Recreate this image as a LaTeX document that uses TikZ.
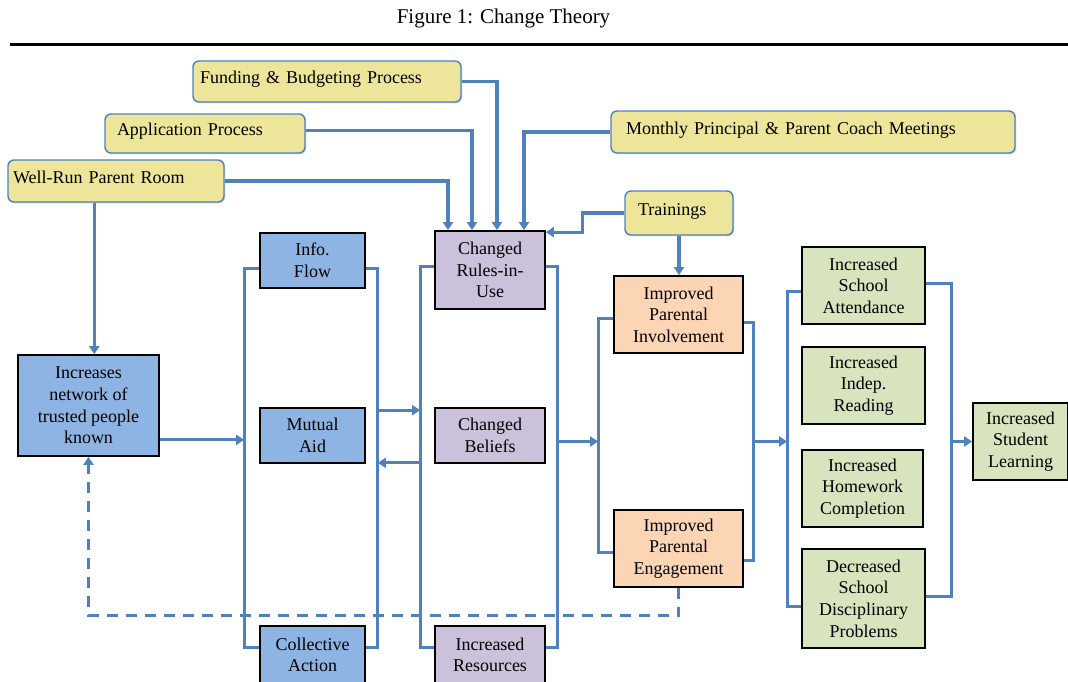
\documentclass[tikz,border=0pt]{standalone}
\usepackage{fontspec}
\setmainfont{Liberation Serif}
\usetikzlibrary{calc,arrows.meta,shadows}

\definecolor{linecol}{RGB}{79,129,189}
\definecolor{yelfill}{RGB}{237,229,154}
\definecolor{bluefill}{RGB}{142,180,227}
\definecolor{purpfill}{RGB}{204,193,218}
\definecolor{orangefill}{RGB}{252,213,181}
\definecolor{greenfill}{RGB}{215,228,189}

\begin{document}
\begin{tikzpicture}[x=1pt,y=-1pt,
  every node/.style={font=\fontsize{18}{21.6}\selectfont},
  softshadow/.style={drop shadow={shadow xshift=1.3pt,shadow yshift=-1.3pt,opacity=0.3}},
  box/.style={draw=black, line width=1.7pt, inner sep=0pt, align=center, softshadow},
  bluebox/.style={box, fill=bluefill},
  purpbox/.style={box, fill=purpfill},
  orangebox/.style={box, fill=orangefill},
  greenbox/.style={box, fill=greenfill},
  yel/.style={draw=linecol, line width=1.4pt, fill=yelfill, rounded corners=6pt,
    inner ysep=0pt, align=left, text height=12pt, text depth=8pt, softshadow},
  conn/.style={draw=linecol, line width=3.1pt},
  arr/.style={conn, -{Triangle[length=8pt,width=10pt]}},
  dasharr/.style={arr, dash pattern=on 11pt off 8pt}]

\useasboundingbox (0,0) rectangle (1068,681);

% heading and rule
\node (title) at (503.5,18) {\fontsize{21}{25}\selectfont Figure 1: Change Theory};
\draw[line width=3pt] (10,44) -- (1068,44);

% inputs
\node[yel, minimum width=268, minimum height=41, text width=254, inner xsep=7] (funding) at (327,81.5) {Funding \& Budgeting Process};
\node[yel, minimum width=200, minimum height=39, text width=176, inner xsep=12] (application) at (205,133.5) {Application Process};
\node[yel, minimum width=216, minimum height=42, text width=206, inner xsep=5] (wellrun) at (116,181) {Well-Run Parent Room};
\node[yel, minimum width=404, minimum height=42, text width=374, inner xsep=15] (monthly) at (813,132) {Monthly Principal \& Parent Coach Meetings};
\node[yel, minimum width=108, minimum height=44, text width=82, inner xsep=13] (trainings) at (679,213) {Trainings};

% social capital
\node[bluebox, minimum width=141, minimum height=101] (network) at (88.5,405.5) {Increases\\network of\\trusted people\\known};
\node[bluebox, minimum width=105, minimum height=55] (info) at (312.5,260.5) {Info.\\Flow};
\node[bluebox, minimum width=105, minimum height=55] (mutual) at (312.5,435.5) {Mutual\\Aid};
\node[bluebox, minimum width=105, minimum height=58] (collective) at (312.5,655) {Collective\\Action};

% institutional change
\node[purpbox, minimum width=110, minimum height=78] (rules) at (490,270) {Changed\\Rules-in-\\Use};
\node[purpbox, minimum width=110, minimum height=55] (beliefs) at (490,435.5) {Changed\\Beliefs};
\node[purpbox, minimum width=110, minimum height=58] (resources) at (490,655) {Increased\\Resources};

% parental outcomes
\node[orangebox, minimum width=129, minimum height=77] (involvement) at (678.5,314.5) {Improved\\Parental\\Involvement};
\node[orangebox, minimum width=129, minimum height=77] (engagement) at (678.5,548.5) {Improved\\Parental\\Engagement};

% student outcomes
\node[greenbox, minimum width=123, minimum height=77] (attendance) at (863.5,285.5) {Increased\\School\\Attendance};
\node[greenbox, minimum width=123, minimum height=77] (reading) at (863.5,385.5) {Increased\\Indep.\\Reading};
\node[greenbox, minimum width=121, minimum height=77] (homework) at (862.5,488.5) {Increased\\Homework\\Completion};
\node[greenbox, minimum width=123, minimum height=99] (discipline) at (863.5,598.5) {Decreased\\School\\Disciplinary\\Problems};
\node[greenbox, minimum width=95, minimum height=77] (learning) at (1020.5,441.5) {Increased\\Student\\Learning};

% inputs feeding the rules
\draw[arr] (wellrun.east) -| ($(rules.north)+(-42,0)$);
\draw[arr] ($(application.east)+(0,-3)$) -| ($(rules.north)+(-18,0)$);
\draw[arr] (funding.east) -| ($(rules.north)+(7,0)$);
\draw[arr] (monthly.west) -| ($(rules.north)+(34,0)$);
\draw[arr] (trainings.west) -- ++(-42,0) |- ($(rules.north east)+(0,2)$);
\draw[arr] (trainings.south) -- (trainings.south |- involvement.north);
\coordinate (wdrop) at ($(wellrun.south west)+(87,0)$);
\draw[arr] (wdrop) -- (wdrop |- network.north);

% bracket coordinates
\coordinate (bL) at ($(info.north west)+(-15,36)$);
\coordinate (bR) at ($(info.north east)+(12,36)$);
\coordinate (pL) at ($(rules.north west)+(-14,36)$);
\coordinate (pR) at ($(rules.north east)+(12,36)$);
\coordinate (oL) at ($(involvement.north west)+(-15,43)$);
\coordinate (oR) at ($(involvement.north east)+(10,47)$);
\coordinate (gL) at ($(attendance.north west)+(-14,45)$);
\coordinate (gR) at ($(attendance.north east)+(26,37)$);
\coordinate (m1) at ($(mutual.north)+(0,3)$);
\coordinate (m2) at ($(mutual.south)+(0,-1)$);

% social capital group
\draw[conn] ($(info.north west)+(0,36)$) -- (bL) |- ($(collective.north west)+(0,22)$);
\draw[conn] ($(info.north east)+(0,36)$) -- (bR) |- ($(collective.north east)+(0,22)$);
\coordinate (n1) at ($(network.south east)+(0,-17)$);
\draw[arr] (n1) -- (n1 -| bL);

% institutional group
\draw[conn] ($(rules.north west)+(0,36)$) -- (pL) |- ($(resources.north west)+(0,22)$);
\draw[conn] ($(rules.north east)+(0,36)$) -- (pR) |- ($(resources.north east)+(0,22)$);
\draw[arr] (bR |- m1) -- (pL |- m1);
\draw[arr] (pL |- m2) -- (bR |- m2);

% parental group
\draw[arr] (pR |- learning.west) -- (oL |- learning.west);
\draw[conn] ($(involvement.north west)+(0,43)$) -- (oL) |- ($(engagement.north west)+(0,43)$);
\draw[conn] ($(involvement.north east)+(0,47)$) -- (oR) |- ($(engagement.north east)+(0,51)$);

% student group
\draw[arr] (oR |- learning.west) -- (gL |- learning.west);
\draw[conn] ($(attendance.north west)+(0,45)$) -- (gL) |- ($(discipline.north west)+(0,58)$);
\draw[conn] ($(attendance.north east)+(0,37)$) -- (gR) |- ($(discipline.north east)+(0,48)$);
\draw[arr] (gR |- learning.west) -- (learning.west);

% feedback loop
\draw[dasharr] (engagement.south) -- ++(0,28) -| (network.south);
\end{tikzpicture}
\end{document}
